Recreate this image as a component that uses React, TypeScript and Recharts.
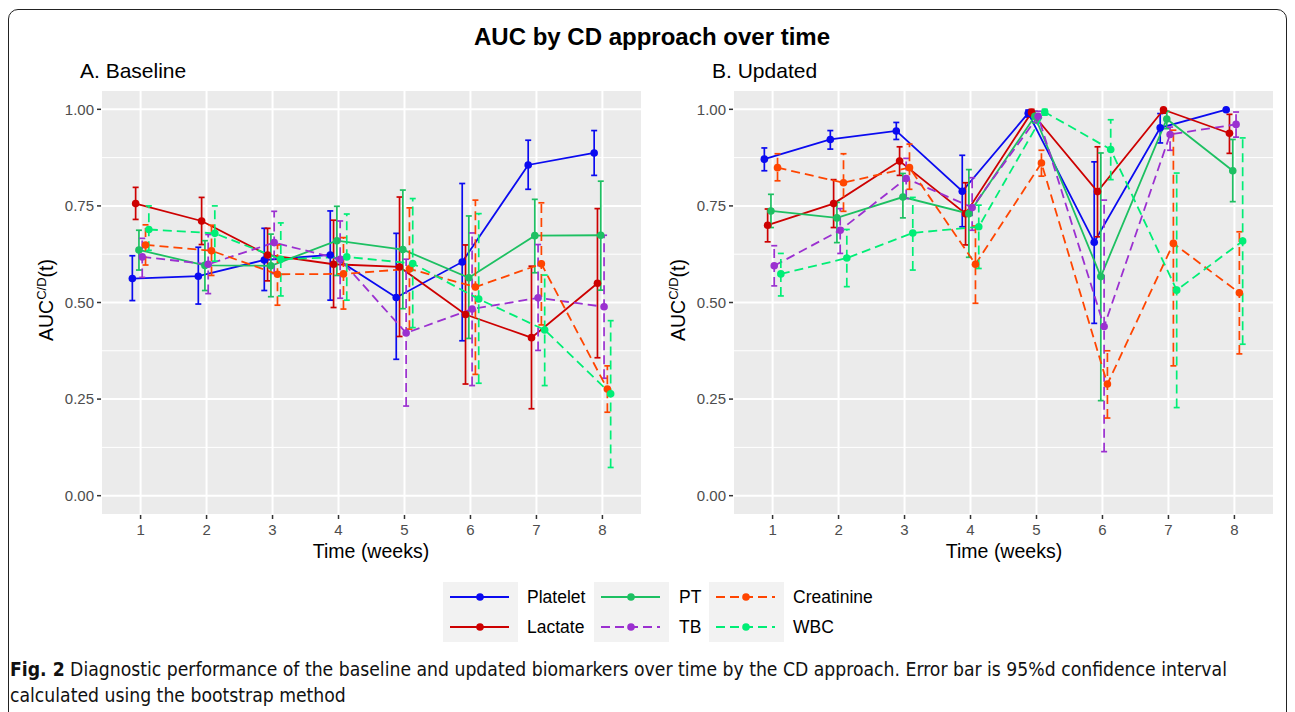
import React from 'react';
import { ComposedChart, Line, XAxis, YAxis, CartesianGrid, ErrorBar } from 'recharts';

const WEEKS = [1, 2, 3, 4, 5, 6, 7, 8];
const Y_TICKS = [0, 0.25, 0.5, 0.75, 1];
const Y_MINOR = [0.125, 0.375, 0.625, 0.875];
const SERIES = ['Platelet', 'Lactate', 'PT', 'TB', 'Creatinine', 'WBC'];

// A. Baseline
const BASE_PLATELET = [0.562, 0.568, 0.61, 0.623, 0.513, 0.605, 0.856, 0.887];
const BASE_PLATELET_LO = [0.505, 0.496, 0.531, 0.506, 0.353, 0.401, 0.793, 0.829];
const BASE_PLATELET_HI = [0.621, 0.643, 0.692, 0.737, 0.679, 0.808, 0.92, 0.945];
const BASE_LACTATE = [0.756, 0.711, 0.623, 0.599, 0.592, 0.469, 0.409, 0.55];
const BASE_LACTATE_LO = [0.715, 0.65, 0.556, 0.487, 0.412, 0.289, 0.225, 0.357];
const BASE_LACTATE_HI = [0.798, 0.772, 0.692, 0.713, 0.773, 0.649, 0.594, 0.743];
const BASE_PT = [0.636, 0.596, 0.595, 0.66, 0.637, 0.564, 0.673, 0.674];
const BASE_PT_LO = [0.584, 0.531, 0.515, 0.57, 0.484, 0.407, 0.577, 0.532];
const BASE_PT_HI = [0.687, 0.66, 0.677, 0.749, 0.791, 0.724, 0.767, 0.814];
const BASE_TB = [0.618, 0.599, 0.655, 0.612, 0.421, 0.483, 0.512, 0.489];
const BASE_TB_LO = [0.565, 0.523, 0.575, 0.511, 0.232, 0.285, 0.376, 0.304];
const BASE_TB_HI = [0.666, 0.676, 0.736, 0.711, 0.612, 0.68, 0.65, 0.674];
const BASE_CREAT = [0.649, 0.634, 0.573, 0.574, 0.587, 0.54, 0.6, 0.276];
const BASE_CREAT_LO = [0.597, 0.57, 0.493, 0.483, 0.431, 0.314, 0.442, 0.216];
const BASE_CREAT_HI = [0.701, 0.7, 0.649, 0.668, 0.745, 0.765, 0.758, 0.336];
const BASE_WBC = [0.689, 0.679, 0.612, 0.618, 0.601, 0.509, 0.429, 0.264];
const BASE_WBC_LO = [0.635, 0.607, 0.517, 0.506, 0.435, 0.291, 0.285, 0.073];
const BASE_WBC_HI = [0.75, 0.75, 0.706, 0.729, 0.769, 0.73, 0.571, 0.453];

// B. Updated
const UPD_PLATELET = [0.871, 0.922, 0.944, 0.788, 0.99, 0.656, 0.952, 0.999];
const UPD_PLATELET_LO = [0.841, 0.897, 0.922, 0.696, 0.98, 0.446, 0.913, 0.995];
const UPD_PLATELET_HI = [0.9, 0.945, 0.966, 0.881, 0.998, 0.864, 0.989, 1.0];
const UPD_LACTATE = [0.7, 0.756, 0.866, 0.73, 0.992, 0.787, 0.999, 0.938];
const UPD_LACTATE_LO = [0.657, 0.694, 0.829, 0.649, 0.982, 0.67, 0.99, 0.886];
const UPD_LACTATE_HI = [0.742, 0.818, 0.903, 0.81, 1.0, 0.903, 1.0, 0.987];
const UPD_PT = [0.737, 0.719, 0.773, 0.73, 0.982, 0.567, 0.975, 0.841];
const UPD_PT_LO = [0.694, 0.655, 0.719, 0.617, 0.965, 0.246, 0.95, 0.761];
const UPD_PT_HI = [0.78, 0.759, 0.834, 0.844, 0.995, 0.887, 0.995, 0.922];
const UPD_TB = [0.595, 0.687, 0.821, 0.746, 0.982, 0.438, 0.935, 0.961];
const UPD_TB_LO = [0.543, 0.627, 0.769, 0.687, 0.965, 0.114, 0.894, 0.928];
const UPD_TB_HI = [0.647, 0.743, 0.873, 0.823, 0.995, 0.765, 0.954, 0.993];
const UPD_CREAT = [0.849, 0.81, 0.849, 0.599, 0.861, 0.289, 0.653, 0.525];
const UPD_CREAT_LO = [0.815, 0.736, 0.793, 0.498, 0.827, 0.201, 0.336, 0.367];
const UPD_CREAT_HI = [0.885, 0.885, 0.91, 0.698, 0.894, 0.375, 0.946, 0.683];
const UPD_WBC = [0.574, 0.615, 0.68, 0.696, 0.993, 0.896, 0.532, 0.659];
const UPD_WBC_LO = [0.517, 0.541, 0.584, 0.588, 0.985, 0.818, 0.228, 0.392];
const UPD_WBC_HI = [0.627, 0.689, 0.772, 0.752, 1.0, 0.973, 0.835, 0.926];

const COLORS = ['#0A0AF0', '#CD0000', '#1DC062', '#9B30D0', '#FF4500', '#00EE76'];
const DASHED = [false, false, false, true, true, true];
const DODGE = 0.05; // position_dodge spacing between series

const FONT = "'Liberation Sans', Arial, Helvetica, sans-serif";

type Triple = [number[], number[], number[]];

const baseline: Triple[] = [
  [BASE_PLATELET, BASE_PLATELET_LO, BASE_PLATELET_HI],
  [BASE_LACTATE, BASE_LACTATE_LO, BASE_LACTATE_HI],
  [BASE_PT, BASE_PT_LO, BASE_PT_HI],
  [BASE_TB, BASE_TB_LO, BASE_TB_HI],
  [BASE_CREAT, BASE_CREAT_LO, BASE_CREAT_HI],
  [BASE_WBC, BASE_WBC_LO, BASE_WBC_HI],
];
const updated: Triple[] = [
  [UPD_PLATELET, UPD_PLATELET_LO, UPD_PLATELET_HI],
  [UPD_LACTATE, UPD_LACTATE_LO, UPD_LACTATE_HI],
  [UPD_PT, UPD_PT_LO, UPD_PT_HI],
  [UPD_TB, UPD_TB_LO, UPD_TB_HI],
  [UPD_CREAT, UPD_CREAT_LO, UPD_CREAT_HI],
  [UPD_WBC, UPD_WBC_LO, UPD_WBC_HI],
];

function toPoints([vals, lo, hi]: Triple, idx: number) {
  const off = (idx - 2.5) * DODGE;
  return WEEKS.map((w, i) => ({
    x: w + off,
    auc: vals[i],
    err: [vals[i] - lo[i], hi[i] - vals[i]],
  }));
}

const tickStyle = { fill: '#4D4D4D', fontSize: 15, fontFamily: FONT };

function Panel({ series, left }: { series: Triple[]; left: number }) {
  return (
    <div style={{ position: 'absolute', left, top: 0 }}>
      <ComposedChart width={660} height={570} margin={{ top: 90, right: 18, bottom: 15, left: 61 }}>
        <CartesianGrid
          fill="#EBEBEB"
          stroke="#FFFFFF"
          strokeWidth={1}
          vertical={false}
          horizontalValues={Y_MINOR}
        />
        <CartesianGrid stroke="#FFFFFF" strokeWidth={2} fillOpacity={0} />
        <XAxis
          dataKey="x"
          type="number"
          domain={[0.4, 8.6]}
          ticks={WEEKS}
          allowDuplicatedCategory={false}
          axisLine={false}
          tickLine={{ stroke: '#333333', strokeWidth: 1.5 }}
          tickSize={4}
          tickMargin={5}
          tick={tickStyle}
          height={40}
        />
        <YAxis
          type="number"
          domain={[-0.05, 1.05]}
          ticks={Y_TICKS}
          tickFormatter={(v: number) => v.toFixed(2)}
          axisLine={false}
          tickLine={{ stroke: '#333333', strokeWidth: 1.5 }}
          tickSize={4}
          tickMargin={3}
          tick={tickStyle}
          width={40}
        />
        {series.map((s, i) => (
          <Line
            key={SERIES[i]}
            data={toPoints(s, i)}
            dataKey="auc"
            name={SERIES[i]}
            stroke={COLORS[i]}
            strokeWidth={1.8}
            strokeDasharray={DASHED[i] ? '9 5' : undefined}
            dot={{ r: 3.8, fill: COLORS[i], stroke: 'none' }}
            activeDot={false}
            isAnimationActive={false}
          >
            <ErrorBar
              dataKey="err"
              direction="y"
              width={3}
              stroke={COLORS[i]}
              strokeWidth={1.7}
              strokeDasharray={DASHED[i] ? '9 5' : undefined}
              isAnimationActive={false}
            />
          </Line>
        ))}
      </ComposedChart>
    </div>
  );
}

function YLabel({ x }: { x: number }) {
  return (
    <div
      style={{
        position: 'absolute',
        left: x,
        top: 300,
        transform: 'translate(-50%, -50%) rotate(-90deg)',
        whiteSpace: 'nowrap',
        fontFamily: FONT,
        fontSize: 19.5,
        color: '#000',
      }}
    >
      AUC<sup style={{ fontSize: 13 }}>C/D</sup>(t)
    </div>
  );
}

function LegendKey({ color, dashed }: { color: string; dashed: boolean }) {
  return (
    <svg width={75} height={30} style={{ display: 'block' }}>
      <rect x={0} y={0} width={75} height={30} fill="#F2F2F2" />
      <line
        x1={7}
        x2={66}
        y1={15}
        y2={15}
        stroke={color}
        strokeWidth={1.8}
        strokeDasharray={dashed ? '9 5' : undefined}
      />
      <circle cx={37} cy={15} r={3.8} fill={color} />
    </svg>
  );
}

function Legend() {
  const cols = [
    { key: 443, label: 527, items: [0, 1] },
    { key: 594, label: 679, items: [2, 3] },
    { key: 709, label: 793, items: [4, 5] },
  ];
  return (
    <>
      {cols.map((c) =>
        c.items.map((idx, r) => (
          <React.Fragment key={SERIES[idx]}>
            <div style={{ position: 'absolute', left: c.key, top: 582 + r * 30 }}>
              <LegendKey color={COLORS[idx]} dashed={DASHED[idx]} />
            </div>
            <div
              style={{
                position: 'absolute',
                left: c.label,
                top: 582 + r * 30,
                height: 30,
                lineHeight: '30px',
                fontFamily: FONT,
                fontSize: 17.5,
                color: '#000',
              }}
            >
              {SERIES[idx]}
            </div>
          </React.Fragment>
        ))
      )}
    </>
  );
}

const textAbs = (left: number, top: number, size: number, extra: React.CSSProperties = {}): React.CSSProperties => ({
  position: 'absolute',
  left,
  top,
  fontFamily: FONT,
  fontSize: size,
  color: '#000',
  whiteSpace: 'nowrap',
  lineHeight: 1,
  ...extra,
});

export default function App() {
  return (
    <div
      style={{
        position: 'fixed',
        left: 0,
        top: 0,
        width: 1295,
        height: 712,
        overflow: 'hidden',
        background: '#FFFFFF',
      }}
    >
      <div
        style={{
          position: 'absolute',
          left: 8,
          top: 9,
          width: 1277,
          height: 740,
          border: '1.5px solid #222',
          borderRadius: 10,
        }}
      />
      <div style={textAbs(652, 25, 24, { fontWeight: 'bold', transform: 'translateX(-50%)' })}>
        AUC by CD approach over time
      </div>
      <div style={textAbs(80, 60, 21)}>A. Baseline</div>
      <div style={textAbs(712, 60, 21)}>B. Updated</div>

      <Panel series={baseline} left={0} />
      <Panel series={updated} left={632} />

      <YLabel x={46} />
      <YLabel x={678} />
      <div style={textAbs(371, 542, 19.5, { transform: 'translateX(-50%)' })}>Time (weeks)</div>
      <div style={textAbs(1004, 542, 19.5, { transform: 'translateX(-50%)' })}>Time (weeks)</div>

      <Legend />

      <div
        style={{
          position: 'absolute',
          left: 10,
          top: 657,
          width: 1270,
          fontFamily: "'DejaVu Sans Condensed', 'Liberation Sans Narrow', sans-serif",
          fontSize: 19.2,
          lineHeight: '26px',
          color: '#111',
        }}
      >
        <b>Fig. 2</b> Diagnostic performance of the baseline and updated biomarkers over time by the CD approach. Error bar is 95%d confidence interval
        <br />
        calculated using the bootstrap method
      </div>
    </div>
  );
}
